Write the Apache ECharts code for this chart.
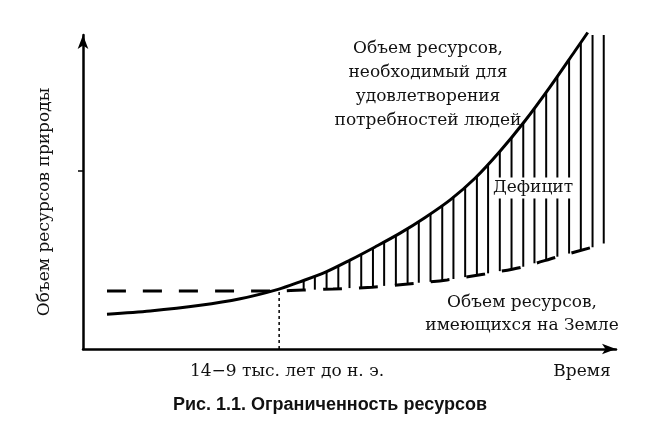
<!DOCTYPE html>
<html><head><meta charset="utf-8">
<script src="https://cdn.jsdelivr.net/npm/echarts@6/dist/echarts.min.js"></script>
<style>html,body{margin:0;padding:0;background:#fff}#c{width:668px;height:427px}</style>
</head><body><div id="c"></div>
<script>
// Curve: volume of resources needed for people
const needX = [4.5, 12.6, 22.0, 29.5, 36.6, 40.7, 45.4, 50.1, 54.8, 59.5, 64.2, 68.9, 73.5, 78.2, 82.9, 87.6, 92.3, 94.7];
const needY = [11.1, 12.1, 13.9, 16.0, 19.0, 21.4, 24.4, 28.3, 32.5, 36.9, 41.9, 47.5, 54.3, 62.9, 72.6, 83.4, 94.9, 100.8];
// Dashed: volume of resources available on Earth
const earthX = [4.5, 36.6, 41.3, 46.9, 54.2, 61.0, 68.3, 75.4, 82.4, 88.9, 95.7, 97.9];
const earthY = [18.5, 18.5, 18.8, 19.1, 19.7, 20.7, 22.0, 23.9, 26.1, 29.3, 32.5, 33.8];
// Deficit hatching
const hatchX = [41.4, 43.5, 45.7, 47.9, 50.0, 52.2, 54.4, 56.5, 58.7, 60.9, 63.0, 65.2, 67.4, 69.5, 71.7, 73.9, 76.0, 78.2, 80.4, 82.6, 84.7, 86.9, 89.0, 91.2, 93.4, 95.6, 97.7];
const hatchTop = [21.8, 23.2, 24.6, 26.5, 28.3, 30.2, 32.1, 34.2, 36.2, 38.4, 40.7, 43.1, 45.7, 48.5, 51.7, 54.9, 58.9, 62.9, 67.4, 71.9, 76.7, 81.7, 86.9, 92.2, 97.5, 100, 100];
const hatchBottom = [18.8, 18.9, 19.0, 19.2, 19.4, 19.6, 19.8, 20.1, 20.4, 20.7, 21.1, 21.4, 21.8, 22.3, 22.9, 23.5, 24.1, 24.8, 25.5, 26.2, 27.3, 28.3, 29.4, 30.4, 31.4, 32.4, 33.6];
// Marker of the crossing point (14-9 thousand years BC)
const markX = [36.8, 36.8];
const markY = [0, 18.5];
const yTicks = [56.7];

const texts = {
  need: 'Объем ресурсов,\nнеобходимый для\nудовлетворения\nпотребностей людей',
  deficit: 'Дефицит',
  earth: 'Объем ресурсов,\nимеющихся на Земле',
  era: '14−9 тыс. лет до н. э.',
  time: 'Время',
  yName: 'Объем ресурсов природы',
  caption: 'Рис. 1.1. Ограниченность ресурсов'
};

const zip = (a, b) => a.map((v, i) => [v, b[i]]);
const serif = '"DejaVu Serif", serif';
const chart = echarts.init(document.getElementById('c'), null, {renderer: 'canvas'});
chart.setOption({
  animation: false,
  backgroundColor: '#fff',
  grid: {left: 83, right: 52, top: 35, bottom: 78},
  xAxis: {
    type: 'value', min: 0, max: 100,
    axisLine: {symbol: ['none', 'arrow'], symbolSize: [8, 14], lineStyle: {color: '#000', width: 2.5}},
    axisTick: {show: false}, axisLabel: {show: false}, splitLine: {show: false}
  },
  yAxis: {
    type: 'value', min: 0, max: 100,
    axisLine: {show: true, symbol: ['none', 'arrow'], symbolSize: [8, 14], lineStyle: {color: '#000', width: 2.5}},
    axisTick: {show: true, customValues: yTicks, length: 5, lineStyle: {color: '#000', width: 1.5}},
    axisLabel: {show: false}, splitLine: {show: false}
  },
  series: [
    {type: 'line', data: zip(needX, needY), smooth: 0.3, showSymbol: false, clip: false,
     lineStyle: {color: '#000', width: 3}, z: 5},
    {type: 'line', data: zip(earthX, earthY), smooth: 0.3, showSymbol: false,
     lineStyle: {color: '#000', width: 3, type: [19, 17]}, z: 5},
    {type: 'custom', data: hatchX.map((x, i) => [x, hatchBottom[i], hatchTop[i]]),
     encode: {x: 0, y: [1, 2]}, clip: false, z: 4,
     renderItem: (params, api) => {
       const p1 = api.coord([api.value(0), api.value(1)]);
       const p2 = api.coord([api.value(0), api.value(2)]);
       return {type: 'line', shape: {x1: p1[0], y1: p1[1], x2: p2[0], y2: p2[1]},
               style: {stroke: '#000', lineWidth: 2}};
     }},
    {type: 'line', data: zip(markX, markY), showSymbol: false,
     lineStyle: {color: '#000', width: 1.5, type: [3, 3]}}
  ],
  graphic: [
    {type: 'text', z: 100, style: {text: texts.need, x: 428, y: 37, textAlign: 'center', font: '17px ' + serif, lineHeight: 24, fill: '#111'}},
    {type: 'text', z: 100, style: {text: texts.deficit, x: 533, y: 188, textAlign: 'center', textVerticalAlign: 'middle', font: '17px ' + serif, fill: '#111', backgroundColor: '#fff', padding: [2, 3]}},
    {type: 'text', z: 100, style: {text: texts.earth, x: 522, y: 291, textAlign: 'center', font: '17px ' + serif, lineHeight: 23, fill: '#111'}},
    {type: 'text', z: 100, style: {text: texts.era, x: 287, y: 372, textAlign: 'center', textVerticalAlign: 'middle', font: '17px ' + serif, fill: '#111'}},
    {type: 'text', z: 100, style: {text: texts.time, x: 582, y: 372, textAlign: 'center', textVerticalAlign: 'middle', font: '17px ' + serif, fill: '#111'}},
    {type: 'text', z: 100, x: 45, y: 202, rotation: Math.PI / 2, style: {text: texts.yName, x: 0, y: 0, textAlign: 'center', textVerticalAlign: 'middle', font: '17px ' + serif, fill: '#111'}},
    {type: 'text', z: 100, style: {text: texts.caption, x: 330, y: 405, textAlign: 'center', textVerticalAlign: 'middle', font: 'bold 18px "Liberation Sans", Arial, sans-serif', fill: '#111'}}
  ]
});
</script></body></html>
